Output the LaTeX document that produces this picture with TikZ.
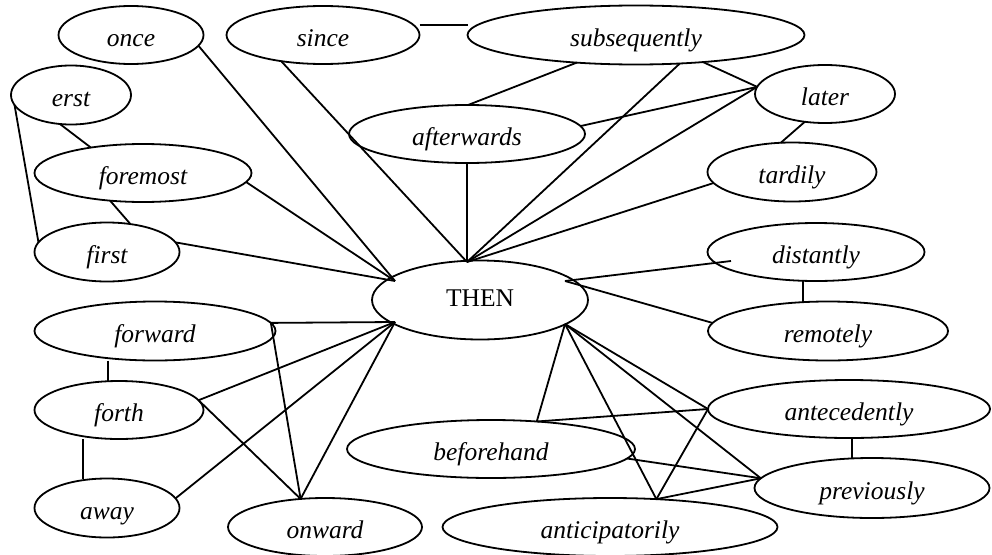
\documentclass[tikz,border=0pt]{standalone}
\usepackage{fontspec}
\setmainfont{Liberation Serif}
\usetikzlibrary{shapes.geometric,calc}
\tikzset{
  oval/.style={ellipse, draw, line width=1.8pt, inner sep=0pt, outer sep=0pt,
    font=\fontsize{25.5}{30}\selectfont\itshape, text height=22pt, text depth=0pt},
  hub/.style={ellipse, draw, line width=1.8pt, inner sep=0pt, outer sep=0pt,
    font=\fontsize{25.5}{30}\selectfont, text height=12pt, text depth=0pt},
  link/.style={line width=1.8pt}
}
\begin{document}
\begin{tikzpicture}[x=1pt,y=-1pt]
\clip (0,0) rectangle (992,554);
% nodes
\node[oval, minimum width=145pt, minimum height=58pt] (once) at (131,35) {once};
\node[oval, minimum width=193pt, minimum height=58pt] (since) at (323,35) {since};
\node[oval, minimum width=337pt, minimum height=59pt] (subsequently) at (636,35) {subsequently};
\node[oval, minimum width=120pt, minimum height=59pt] (erst) at (71,95) {erst};
\node[oval, minimum width=236pt, minimum height=58pt] (afterwards) at (467,134) {afterwards};
\node[oval, minimum width=140pt, minimum height=58pt] (later) at (825,94) {later};
\node[oval, minimum width=217pt, minimum height=58pt] (foremost) at (143,173) {foremost};
\node[oval, minimum width=169pt, minimum height=59pt] (tardily) at (792,172) {tardily};
\node[oval, minimum width=145pt, minimum height=59pt] (first) at (107,252) {first};
\node[oval, minimum width=217pt, minimum height=58pt] (distantly) at (816,252) {distantly};
\node[hub, minimum width=216pt, minimum height=79pt] (THEN) at (480,300) {THEN};
\node[oval, minimum width=241pt, minimum height=59pt] (forward) at (155,331) {forward};
\node[oval, minimum width=240pt, minimum height=59pt] (remotely) at (828,331) {remotely};
\node[oval, minimum width=169pt, minimum height=58pt] (forth) at (119,410) {forth};
\node[oval, minimum width=282pt, minimum height=58pt] (antecedently) at (849,409) {antecedently};
\node[oval, minimum width=288pt, minimum height=58pt] (beforehand) at (491,449) {beforehand};
\node[oval, minimum width=235pt, minimum height=60pt] (previously) at (872,488) {previously};
\node[oval, minimum width=145pt, minimum height=59pt] (away) at (107,508) {away};
\node[oval, minimum width=194pt, minimum height=58pt] (onward) at (325,527) {onward};
\node[oval, minimum width=335pt, minimum height=58pt] (anticipatorily) at (610,527) {anticipatorily};
% junction points on THEN
\coordinate (Ttl) at ($(THEN.center)+(-85,-19)$);
\coordinate (Ttop) at ($(THEN.center)+(-13,-38)$);
\coordinate (Ttr) at ($(THEN.center)+(85,-19)$);
\coordinate (Tbl) at ($(THEN.center)+(-85,22)$);
\coordinate (Tbr) at ($(THEN.center)+(85,24)$);
\coordinate (dst) at ($(distantly.center)+(-85,9)$);
% connectors
\draw[link] ([yshift=10pt]since.east) -- ([yshift=10pt]subsequently.west);
\draw[link] (once.-9) -- (Ttl);
\draw[link] (foremost.-5) -- (Ttl);
\draw[link] (first.8) -- (Ttl);
\draw[link] (since.-148) -- (Ttop);
\draw[link] (afterwards.south) -- (Ttop);
\draw[link] (subsequently.-33) -- (Ttop);
\draw[link] (later.174) -- (Ttop);
\draw[link] (tardily.-172) -- (Ttop);
\draw[link] (subsequently.-155) -- (afterwards.88);
\draw[link] (subsequently.-22) -- (later.174);
\draw[link] (afterwards.4) -- (later.174);
\draw[link] (later.-126) -- (tardily.111);
\draw[link] (erst.-111) -- (foremost.154);
\draw[link] (erst.-170) -- (first.172);
\draw[link] (foremost.-140) -- (first.50);
\draw[link] (dst) -- (Ttr);
\draw[link] (remotely.176) -- (Ttr);
\draw[link] ([xshift=-13pt]distantly.south) -- ([xshift=-25pt]remotely.north);
\draw[link] (forward.4) -- (Tbl);
\draw[link] (forward.4) -- (onward.131);
\draw[link] (forth.7) -- (Tbl);
\draw[link] (forth.7) -- (onward.131);
\draw[link] (away.8) -- (Tbl);
\draw[link] (onward.131) -- (Tbl);
\draw[link] ([xshift=-47pt]forward.south) -- ([xshift=-11pt]forth.north);
\draw[link] ([xshift=-36pt]forth.south) -- ([xshift=-24pt]away.north);
\draw[link] (Tbr) -- (beforehand.31);
\draw[link] (Tbr) -- (anticipatorily.31);
\draw[link] (Tbr) -- (previously.175);
\draw[link] (Tbr) -- (antecedently.west);
\draw[link] (beforehand.31) -- (antecedently.west);
\draw[link] (anticipatorily.31) -- (antecedently.west);
\draw[link] (anticipatorily.31) -- (previously.175);
\draw[link] (beforehand.-4) -- (previously.175);
\draw[link] ([xshift=3pt]antecedently.south) -- ([xshift=-20pt]previously.north);
\end{tikzpicture}
\end{document}
